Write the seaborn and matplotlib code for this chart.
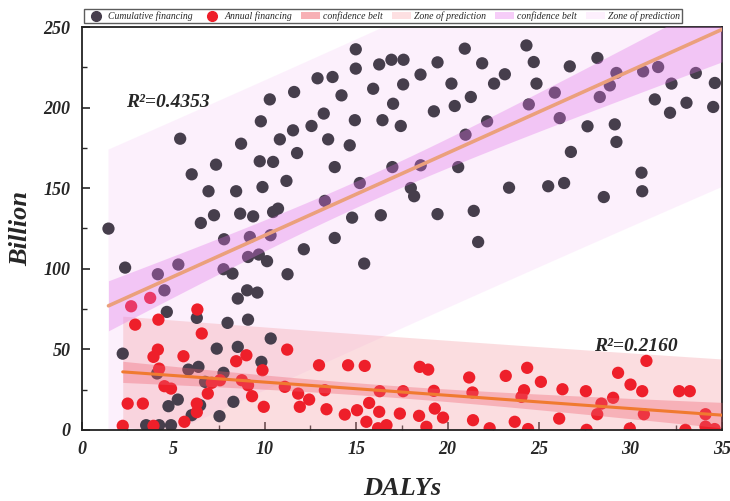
import numpy as np
import pandas as pd
import matplotlib
matplotlib.use("Agg")
import matplotlib.pyplot as plt
from matplotlib.lines import Line2D
from matplotlib.patches import Patch
import seaborn as sns

sns.set_style("ticks")
plt.rcParams["font.family"] = ["Liberation Serif", "DejaVu Serif"]

# Cumulative financing (DALYs, Billion)
cum_x = [1.46, 5.38, 8.71, 6.01, 7.34, 6.93, 8.44, 7.23, 8.66, 6.51, 7.78, 2.37, 4.16, 5.28, 7.75,
         8.24, 4.52, 8.53, 4.65, 6.29, 7.97, 2.24, 7.38, 8.53, 5.83, 6.38, 4.12, 6.74, 7.75, 5.25,
         4.74, 6.47, 8.29, 7.53, 6.01, 3.52, 4.23, 4.88,
         14.98, 14.98, 16.26, 16.93, 17.59, 12.89, 13.71, 11.61, 10.28, 14.20, 15.93, 17.57, 17.02,
         13.23, 9.79, 12.56, 14.93, 16.44, 17.44, 11.55, 10.83, 13.47, 14.65, 11.77, 9.73, 10.46,
         13.83, 16.98, 11.19, 9.88, 15.20, 13.29, 9.37, 10.46, 10.73, 14.78, 16.35, 10.32, 9.19,
         13.83, 12.14, 9.09, 9.68, 10.13, 15.44, 11.25, 9.04, 9.60, 9.09, 10.33, 9.82,
         20.94, 24.31, 19.45, 21.89, 24.71, 18.52, 20.21, 22.54, 23.13, 24.86, 26.68, 21.27, 19.25,
         20.39, 24.44, 25.86, 26.13, 22.16, 20.98, 26.74, 18.53, 20.58, 17.99, 18.17, 23.36, 25.50,
         26.37, 19.45, 21.43, 21.67,
         28.19, 29.23, 30.69, 31.51, 33.57, 28.87, 32.24, 34.61, 28.32, 31.33, 33.06, 32.16, 34.52,
         27.65, 29.14, 29.23, 30.60, 30.64, 28.54]
cum_y = [124.9, 180.7, 177.6, 158.6, 164.6, 148.1, 148.1, 133.2, 134.2, 128.4, 118.3, 100.7, 96.6, 102.6, 99.7,
         97.0, 86.6, 81.5, 73.2, 69.5, 66.4, 47.3, 50.4, 51.5, 37.4, 39.1, 35.0, 29.8, 35.4, 18.8,
         14.7, 15.3, 17.4, 8.5, 9.1, 2.9, 2.9, 2.9,
         236.2, 224.2, 226.8, 229.7, 229.7, 218.2, 219.0, 209.7, 205.1, 207.6, 211.7, 214.4, 202.4,
         196.3, 191.5, 188.6, 192.2, 192.2, 188.6, 185.9, 180.3, 180.3, 176.6, 171.8, 166.7, 166.3,
         163.1, 163.1, 154.5, 150.7, 153.2, 142.1, 132.5, 135.2, 137.3, 131.7, 133.2, 120.8, 119.7,
         119.1, 112.1, 107.3, 108.8, 104.7, 103.2, 96.6, 86.6, 85.2, 68.4, 56.7, 42.2,
         236.6, 238.6, 228.1, 227.5, 228.3, 220.5, 214.9, 214.9, 220.7, 214.9, 225.6, 206.6, 197.7,
         201.0, 202.0, 209.3, 193.5, 191.5, 183.2, 172.5, 164.2, 163.1, 150.1, 145.0, 150.3, 151.2,
         153.2, 133.9, 135.9, 116.6,
         230.8, 221.5, 222.5, 225.2, 221.5, 213.8, 214.9, 215.3, 206.6, 205.1, 203.0, 196.8, 200.4,
         188.4, 189.6, 178.7, 159.6, 148.1, 144.5]

# Annual financing (DALYs, Billion)
ann_x = [6.32, 2.70, 3.74, 2.92, 4.19, 6.56, 4.16, 3.92, 5.56, 4.23, 8.44, 9.00, 4.52, 4.88, 7.11,
         7.56, 6.89, 8.75, 2.51, 3.34, 6.29, 6.29, 2.24, 3.92, 5.61,
         11.23, 9.88, 12.97, 14.56, 15.47, 9.09, 11.10, 11.83, 12.43, 13.29, 9.31, 9.95, 11.92,
         13.38, 14.38, 15.05, 15.71, 16.26, 16.29, 17.39, 17.57, 15.56, 16.66, 16.20,
         18.48, 18.94, 21.18, 23.18, 24.35, 25.10, 26.28, 19.25, 21.36, 24.18, 24.04, 19.30, 18.44,
         19.75, 18.84, 21.39, 23.67, 22.30, 24.40, 26.10,
         30.87, 29.32, 30.00, 30.64, 27.56, 32.66, 33.24, 29.05, 28.41, 28.18, 30.73, 34.10, 34.10,
         29.96, 27.60, 33.00, 34.60]
ann_y = [74.7, 76.7, 81.9, 65.3, 68.4, 59.8, 49.8, 45.3, 45.7, 38.0, 42.6, 46.3, 27.1, 25.6, 29.2,
         30.8, 22.5, 30.8, 16.3, 16.3, 16.3, 11.0, 2.5, 2.5, 5.0,
         49.8, 37.0, 40.1, 40.1, 39.7, 27.7, 26.7, 22.5, 18.8, 24.6, 20.9, 14.3, 14.3,
         12.8, 9.5, 12.2, 16.7, 11.2, 24.0, 10.1, 24.0, 5.0, 2.9, 1.0,
         39.1, 37.4, 32.5, 33.5, 38.5, 29.8, 25.2, 24.2, 23.2, 24.6, 20.5, 13.2, 8.7,
         7.6, 1.9, 6.0, 5.0, 1.0, 0.5, 7.0,
         42.8, 35.4, 28.1, 24.0, 24.0, 24.0, 24.0, 19.9, 16.3, 9.7, 9.7, 9.7, 2.0,
         0.8, 0.0, 0.0, 0.5]

r2_labels = ["R\u00b2=0.4353", "R\u00b2=0.2160"]

dark = "#463e4c"
red = "#ee1f2a"


def bands(x, y, xmax):
    x = np.asarray(x)
    y = np.asarray(y)
    n = len(x)
    b, a = np.polyfit(x, y, 1)
    xs = np.linspace(x.min(), xmax, 200)
    fit = a + b * xs
    s = np.sqrt(np.sum((y - (a + b * x)) ** 2) / (n - 2))
    sxx = np.sum((x - x.mean()) ** 2)
    t = 1.98
    ci = t * s * np.sqrt(1 / n + (xs - x.mean()) ** 2 / sxx)
    pi = t * s * np.sqrt(1 + 1 / n + (xs - x.mean()) ** 2 / sxx)
    return pd.DataFrame({"x": xs, "fit": fit, "ci": ci, "pi": pi})


cum = pd.DataFrame({"x": cum_x, "y": cum_y})
ann = pd.DataFrame({"x": ann_x, "y": ann_y})
cb = bands(cum_x, cum_y, 35)
ab = bands(ann_x, ann_y, 35)

fig = plt.figure(figsize=(7.3, 5.01), dpi=100)
ax = fig.add_axes([0.112, 0.142, 0.877, 0.804])

# prediction zones under the points, confidence belts over them
ax.fill_between(cb.x, cb.fit - cb.pi, cb.fit + cb.pi, color="#f5bff5", alpha=0.22, lw=0, zorder=1)
ax.fill_between(ab.x, ab.fit - ab.pi, ab.fit + ab.pi, color="#f4a0a8", alpha=0.35, lw=0, zorder=1)

sns.scatterplot(data=cum, x="x", y="y", color=dark, s=78, edgecolor="none", ax=ax, zorder=2)
sns.scatterplot(data=ann, x="x", y="y", color=red, s=78, edgecolor="none", ax=ax, zorder=2)

ax.fill_between(cb.x, cb.fit - cb.ci, cb.fit + cb.ci, color="#e070e8", alpha=0.33, lw=0, zorder=4)
ax.fill_between(ab.x, ab.fit - ab.ci, ab.fit + ab.ci, color="#f06070", alpha=0.35, lw=0, zorder=4)

sns.lineplot(data=cb, x="x", y="fit", color="#eba07c", lw=2.6, ax=ax, zorder=5)
sns.lineplot(data=ab, x="x", y="fit", color="#f07a30", lw=2.2, ax=ax, zorder=5)

ax.set_xlim(0, 35)
ax.set_ylim(0, 250)
ax.set_xticks(range(0, 36, 5))
ax.set_yticks(range(0, 251, 50))
ax.set_xticks(np.arange(2.5, 35, 5), minor=True)
ax.set_yticks(range(25, 250, 50), minor=True)
ax.tick_params(which="both", direction="in", top=False, right=False)
ax.tick_params(which="major", length=6, width=1.2, labelsize=13, pad=8)
ax.tick_params(which="minor", length=3.5, width=1.0)
for lab in ax.get_xticklabels() + ax.get_yticklabels():
    lab.set_fontweight("bold")
    lab.set_fontstyle("italic")
for sp in ax.spines.values():
    sp.set_linewidth(1.3)
    sp.set_color("#222222")

ax.set_xlabel("DALYs", fontsize=19, fontweight="bold", fontstyle="italic", labelpad=14)
ax.set_ylabel("Billion", fontsize=19, fontweight="bold", fontstyle="italic", labelpad=8)

ax.text(2.4, 203, r2_labels[0], fontsize=14, fontweight="bold", fontstyle="italic", va="center", zorder=6)
ax.text(28.0, 52, r2_labels[1], fontsize=14, fontweight="bold", fontstyle="italic", va="center", zorder=6)

handles = [
    Line2D([], [], marker="o", ls="none", color=dark, markersize=7),
    Line2D([], [], marker="o", ls="none", color=red, markersize=7),
    Patch(facecolor="#f7b0b5", edgecolor="none"),
    Patch(facecolor="#fde0e2", edgecolor="none"),
    Patch(facecolor="#f6cdf8", edgecolor="none"),
    Patch(facecolor="#fdf0fd", edgecolor="none"),
]
labels = ["Cumulative financing", "Annual financing", "confidence belt",
          "Zone of prediction", "confidence belt", "Zone of prediction"]
leg = ax.legend(handles, labels, loc="lower left", bbox_to_anchor=(0.0, 1.004), ncol=6,
                frameon=True, fancybox=False, edgecolor="#333333", borderpad=0.25,
                handlelength=2.0, handletextpad=0.3, columnspacing=0.9, borderaxespad=0.2,
                prop={"style": "italic", "size": 7})
leg.get_frame().set_linewidth(1.0)

fig.savefig("out.png", dpi=100)
